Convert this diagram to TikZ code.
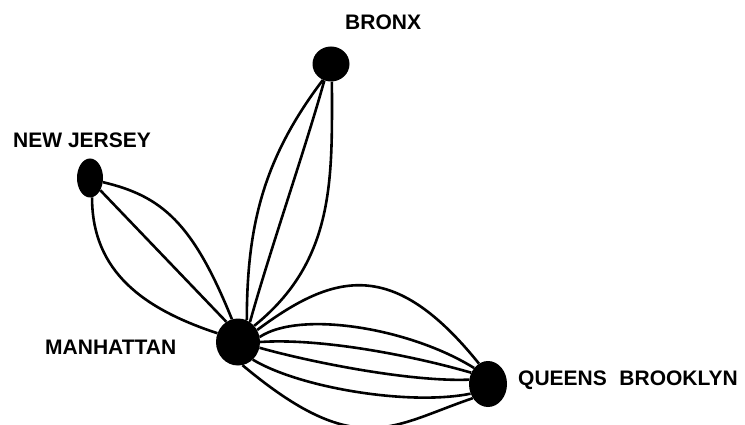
\documentclass[tikz,border=0pt]{standalone}
\usepackage{fontspec}
\setmainfont{Liberation Sans}
\usetikzlibrary{shapes.geometric}
\begin{document}
\begin{tikzpicture}[x=1pt,y=-1pt,
  dot/.style={ellipse, fill=black, draw=none, inner sep=0pt},
  lab/.style={anchor=base west, inner sep=0pt, font=\bfseries\fontsize{21}{21}\selectfont},
  link/.style={line width=2.6pt, line join=round}]
\clip (0,0) rectangle (745,425);
\fill[white] (0,0) rectangle (745,425);
% nodes
\node[dot, minimum width=44pt, minimum height=47pt] (m) at (238,342) {};
\node[dot, minimum width=38pt, minimum height=46pt] (q) at (488,384) {};
\node[dot, minimum width=37pt, minimum height=35pt] (b) at (331,64) {};
\node[dot, minimum width=26pt, minimum height=39pt] (n) at (90,178) {};
% labels
\node[lab] (lbronx) at (345,30) {BRONX};
\node[lab] (lnj) at (13,148) {NEW JERSEY};
\node[lab] (lman) at (45,354) {MANHATTAN};
\node[lab] (lqb) at (518,385) {QUEENS\hspace{0.6em}BROOKLYN};
% Manhattan - Queens/Brooklyn
\draw[link] (m.32) .. controls (335,272) and (394,258) .. (q.114);
\draw[link] (m.13) .. controls (300,310) and (410,328) .. (q.131);
\draw[link] (m.0) .. controls (320,338) and (410,355) .. (q.146);
\draw[link] (m.-15) .. controls (310,362) and (410,382) .. (q.167);
\draw[link] (m.-50) .. controls (300,388) and (410,406) .. (q.209);
\draw[link] (m.-79) .. controls (357,461) and (391,426) .. (q.223);
% Manhattan - Bronx
\draw[link] (b.-117) .. controls (263,159) and (247,226) .. (m.68);
\draw[link] (b.-112) .. controls (305,150) and (270,250) .. (m.59);
\draw[link] (b.-87) .. controls (332,177) and (336,260) .. (m.45);
% Manhattan - New Jersey
\draw[link] (n.-18) .. controls (162,196) and (193,223) .. (m.105);
\draw[link] (n.-50) -- (m.120);
\draw[link] (n.-84) .. controls (92,272) and (144,309) .. (m.157);
\end{tikzpicture}
\end{document}
